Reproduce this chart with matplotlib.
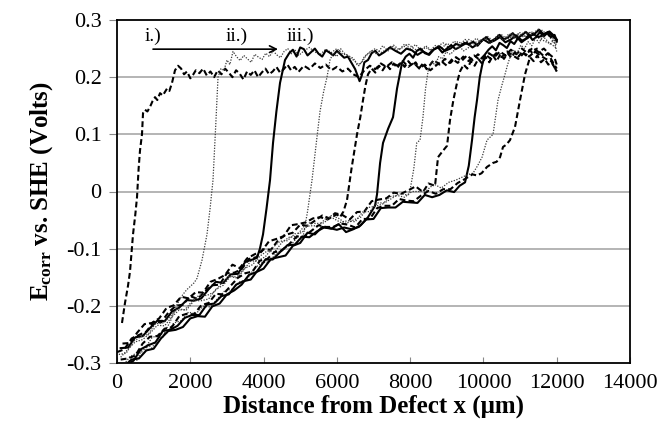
import matplotlib
matplotlib.use("Agg")
import matplotlib.pyplot as plt

plt.rcParams['font.family'] = ['Liberation Serif', 'DejaVu Serif']
plt.rcParams['axes.unicode_minus'] = False
plt.rcParams['mathtext.fontset'] = 'custom'
plt.rcParams['mathtext.rm'] = 'Liberation Serif'
plt.rcParams['mathtext.bf'] = 'Liberation Serif:bold'

# ---------------- data ----------------
# curve i.) dashed
c1_x = [136, 218, 300, 355, 437, 500, 546, 590, 628, 682, 710, 764, 830, 901, 970, 1037, 1100, 1174, 1250, 1365, 1430, 1501, 1583, 1665, 1750, 1830, 1911, 2000, 2074, 2150, 2250, 2350, 2450, 2550, 2650, 2750, 2850, 2950, 3050, 3150, 3250, 3350, 3450, 3550, 3650, 3750, 3850, 3950, 4050, 4150, 4250, 4350, 4450, 4550, 4650, 4750, 4850, 4950, 5100, 5250, 5400, 5550, 5700, 5850, 6000, 6150, 6300, 6450, 6600, 6750, 6900, 7050, 7200, 7350, 7500, 7650, 7800, 7950, 8100, 8250, 8400, 8550, 8700, 8850, 9000, 9150, 9300, 9450, 9600, 9750, 9900, 10050, 10200, 10350, 10500, 10650, 10800, 10950, 11100, 11250, 11400, 11550, 11700, 11850, 12000]
c1_y = [-0.23, -0.195, -0.165, -0.14, -0.075, -0.04, -0.01, 0.04, 0.072, 0.1, 0.137, 0.143, 0.14, 0.148, 0.158, 0.165, 0.16, 0.172, 0.168, 0.18, 0.176, 0.19, 0.212, 0.22, 0.215, 0.205, 0.21, 0.198, 0.204, 0.212, 0.207, 0.215, 0.203, 0.21, 0.2, 0.212, 0.205, 0.215, 0.208, 0.2, 0.212, 0.206, 0.196, 0.21, 0.204, 0.212, 0.2, 0.208, 0.215, 0.205, 0.21, 0.218, 0.208, 0.214, 0.222, 0.212, 0.218, 0.209, 0.22, 0.214, 0.224, 0.216, 0.222, 0.212, 0.218, 0.21, 0.215, 0.205, 0.2, 0.212, 0.22, 0.214, 0.224, 0.218, 0.226, 0.22, 0.228, 0.218, 0.225, 0.215, 0.222, 0.212, 0.22, 0.228, 0.22, 0.232, 0.225, 0.236, 0.228, 0.238, 0.23, 0.24, 0.232, 0.242, 0.235, 0.245, 0.238, 0.232, 0.242, 0.236, 0.245, 0.238, 0.232, 0.228, 0.21]

# curve ii.) dotted
c2_x = [50, 150, 250, 350, 450, 550, 650, 750, 850, 950, 1050, 1150, 1250, 1350, 1450, 1550, 1637, 1720, 1800, 1900, 2000, 2100, 2183, 2320, 2456, 2540, 2620, 2690, 2757, 2840, 2920, 3002, 3080, 3166,
        3260, 3360, 3460, 3560, 3660, 3760, 3860, 3960, 4060, 4160, 4260, 4360, 4460, 4560, 4660, 4760, 4860, 4960, 5100, 5250, 5400, 5550, 5700, 5850, 6000, 6150, 6300, 6450, 6550, 6650, 6750, 6900, 7050, 7200, 7350, 7500, 7650, 7800, 7950, 8100, 8250, 8400, 8550, 8700, 8850, 9000, 9150, 9300, 9450, 9600, 9750, 9900, 10050, 10200, 10350, 10500, 10650, 10800, 10950, 11100, 11250, 11400, 11550, 11700, 11850, 12000]
c2_y = [-0.303, -0.305, -0.31, -0.294, -0.293, -0.295, -0.28, -0.282, -0.268, -0.274, -0.264, -0.255, -0.255, -0.24, -0.228, -0.212, -0.198, -0.188, -0.18, -0.172, -0.166, -0.16, -0.152, -0.12, -0.075, -0.03, 0.02, 0.11, 0.2, 0.215, 0.212, 0.23, 0.222, 0.245,
        0.236, 0.229, 0.238, 0.232, 0.226, 0.24, 0.235, 0.231, 0.242, 0.236, 0.246, 0.239, 0.234, 0.245, 0.25, 0.241, 0.247, 0.238, 0.246, 0.252, 0.244, 0.24, 0.249, 0.243, 0.25, 0.241, 0.238, 0.233, 0.222, 0.224, 0.236, 0.244, 0.25, 0.243, 0.248, 0.255, 0.247, 0.252, 0.258, 0.25, 0.245, 0.253, 0.247, 0.256, 0.25, 0.259, 0.254, 0.262, 0.258, 0.266, 0.26, 0.264, 0.27, 0.263, 0.268, 0.274, 0.266, 0.272, 0.276, 0.27, 0.278, 0.272, 0.267, 0.262, 0.258, 0.25]

# curve iii.) solid
c3_x = [100, 300, 500, 700, 900, 1100, 1300, 1500, 1700, 1900, 2100, 2300, 2500, 2700, 2900, 3100, 3300, 3500, 3700, 3821, 3900, 3985, 4080, 4176, 4258, 4350, 4449, 4585,
        4700, 4800, 4900, 5000, 5100, 5200, 5300, 5400, 5500, 5600, 5700, 5800, 5900, 6000, 6100, 6200, 6300, 6400, 6500, 6580, 6620, 6680, 6750, 6850, 6950, 7050, 7150, 7300, 7450, 7600, 7750, 7900, 8050, 8200, 8350, 8500, 8650, 8800, 8950, 9100, 9250, 9400, 9550, 9700, 9850, 10000, 10150, 10300, 10450, 10600, 10750, 10900, 11050, 11200, 11350, 11500, 11650, 11800, 11950, 12000]
c3_y = [-0.274, -0.273, -0.255, -0.253, -0.239, -0.226, -0.227, -0.21, -0.203, -0.19, -0.191, -0.187, -0.171, -0.158, -0.16, -0.145, -0.144, -0.123, -0.119, -0.116, -0.1, -0.075, -0.03, 0.02, 0.085, 0.14, 0.19, 0.23,
        0.242, 0.248, 0.236, 0.252, 0.249, 0.238, 0.244, 0.25, 0.241, 0.236, 0.247, 0.243, 0.238, 0.246, 0.24, 0.234, 0.236, 0.225, 0.214, 0.2, 0.193, 0.203, 0.226, 0.23, 0.242, 0.246, 0.238, 0.244, 0.252, 0.246, 0.241, 0.25, 0.247, 0.239, 0.245, 0.24, 0.249, 0.254, 0.246, 0.25, 0.258, 0.255, 0.26, 0.252, 0.258, 0.266, 0.26, 0.264, 0.27, 0.261, 0.266, 0.273, 0.264, 0.268, 0.276, 0.27, 0.274, 0.28, 0.271, 0.262]

# dotted
c4_x = [150, 350, 550, 750, 950, 1150, 1350, 1550, 1750, 1950, 2150, 2350, 2550, 2750, 2950, 3150, 3350, 3550, 3750, 3950, 4150, 4350, 4550, 4750, 4950, 5076, 5200, 5322, 5430, 5540, 5640, 5731, 5813, 5900, 6000, 6100, 6200, 6300, 6400, 6500, 6600, 6700, 6800, 6950, 7100, 7250, 7400, 7550, 7700, 7850, 8000, 8150, 8300, 8450, 8600, 8750, 8900, 9050, 9200, 9350, 9500, 9650, 9800, 9950, 10100, 10250, 10400, 10550, 10700, 10850, 11000, 11150, 11300, 11450, 11600, 11750, 11900, 12000]
c4_y = [-0.306, -0.289, -0.282, -0.276, -0.256, -0.25, -0.248, -0.23, -0.226, -0.211, -0.214, -0.201, -0.202, -0.187, -0.173, -0.171, -0.158, -0.154, -0.134, -0.125, -0.123, -0.108, -0.1, -0.093, -0.078, -0.08, -0.035, 0.02, 0.08, 0.14, 0.175, 0.2, 0.23, 0.242, 0.236, 0.25, 0.242, 0.238, 0.232, 0.228, 0.22, 0.228, 0.238, 0.246, 0.24, 0.255, 0.246, 0.256, 0.248, 0.258, 0.25, 0.257, 0.246, 0.254, 0.245, 0.254, 0.26, 0.252, 0.263, 0.256, 0.266, 0.258, 0.268, 0.262, 0.272, 0.264, 0.274, 0.266, 0.276, 0.268, 0.278, 0.27, 0.28, 0.272, 0.282, 0.274, 0.268, 0.258]

# dashed
c5_x = [0, 200, 400, 600, 800, 1000, 1200, 1400, 1600, 1800, 2000, 2200, 2400, 2600, 2800, 3000, 3200, 3400, 3600, 3800, 4000, 4200, 4400, 4600, 4800, 5000, 5200, 5400, 5600, 5800, 6000, 6086, 6180, 6277, 6400, 6550, 6640, 6714, 6780, 6850, 6950, 7050, 7150, 7250, 7350, 7450, 7550, 7650, 7750, 7850, 7950, 8050, 8150, 8250, 8350, 8450, 8550, 8650, 8800, 8950, 9100, 9250, 9400, 9550, 9700, 9850, 10000, 10150, 10300, 10450, 10600, 10750, 10900, 11050, 11200, 11350, 11500, 11650, 11800, 11950, 12000]
c5_y = [-0.281, -0.276, -0.257, -0.251, -0.245, -0.228, -0.229, -0.212, -0.2, -0.198, -0.183, -0.188, -0.175, -0.164, -0.163, -0.143, -0.142, -0.136, -0.118, -0.115, -0.101, -0.102, -0.085, -0.076, -0.072, -0.058, -0.06, -0.051, -0.042, -0.047, -0.04, -0.045, -0.035, -0.015, 0.04, 0.1, 0.13, 0.16, 0.185, 0.205, 0.215, 0.208, 0.22, 0.212, 0.222, 0.214, 0.224, 0.216, 0.226, 0.218, 0.228, 0.22, 0.226, 0.216, 0.224, 0.214, 0.222, 0.23, 0.222, 0.232, 0.225, 0.235, 0.228, 0.238, 0.23, 0.24, 0.232, 0.242, 0.235, 0.245, 0.238, 0.248, 0.24, 0.25, 0.242, 0.252, 0.244, 0.25, 0.24, 0.232, 0.222]

# solid
c6_x = [50, 250, 450, 650, 850, 1050, 1250, 1450, 1650, 1850, 2050, 2250, 2450, 2650, 2850, 3050, 3250, 3450, 3650, 3850, 4050, 4250, 4450, 4650, 4850, 5050, 5250, 5450, 5650, 5850, 6050, 6250, 6450, 6650, 6850, 7041, 7096, 7180, 7260, 7400, 7533, 7642, 7778,
        7880, 7980, 8080, 8180, 8280, 8400, 8520, 8640, 8760, 8880, 9000, 9120, 9240, 9360, 9480, 9600, 9720, 9840, 9960, 10080, 10200, 10320, 10440, 10560, 10680, 10800, 10920, 11040, 11160, 11280, 11400, 11520, 11640, 11760, 11880, 12000]
c6_y = [-0.303, -0.304, -0.296, -0.276, -0.269, -0.264, -0.244, -0.242, -0.235, -0.221, -0.216, -0.216, -0.198, -0.196, -0.183, -0.18, -0.163, -0.157, -0.154, -0.137, -0.119, -0.119, -0.106, -0.094, -0.093, -0.079, -0.08, -0.07, -0.063, -0.065, -0.057, -0.071, -0.066, -0.059, -0.045, -0.025, -0.005, 0.05, 0.085, 0.11, 0.13, 0.18, 0.225,
        0.236, 0.241, 0.234, 0.246, 0.25, 0.242, 0.239, 0.248, 0.252, 0.243, 0.25, 0.256, 0.249, 0.253, 0.26, 0.257, 0.262, 0.255, 0.264, 0.27, 0.262, 0.267, 0.274, 0.266, 0.27, 0.277, 0.268, 0.273, 0.279, 0.272, 0.276, 0.283, 0.275, 0.279, 0.272, 0.266]

# dotted
c7_x = [100, 300, 500, 700, 900, 1100, 1300, 1500, 1700, 1900, 2100, 2300, 2500, 2700, 2900, 3100, 3300, 3500, 3700, 3900, 4100, 4300, 4500, 4700, 4900, 5100, 5300, 5500, 5700, 5900, 6100, 6300, 6500, 6700, 6900, 7100, 7300, 7500, 7700, 7942, 7997, 8100, 8180, 8270, 8350, 8420, 8488,
        8580, 8680, 8780, 8880, 8980, 9100, 9220, 9340, 9460, 9580, 9700, 9820, 9940, 10060, 10180, 10300, 10420, 10540, 10660, 10780, 10900, 11020, 11140, 11260, 11380, 11500, 11620, 11740, 11860, 12000]
c7_y = [-0.29, -0.276, -0.263, -0.259, -0.248, -0.234, -0.235, -0.219, -0.207, -0.207, -0.191, -0.191, -0.188, -0.171, -0.164, -0.148, -0.15, -0.134, -0.128, -0.113, -0.104, -0.106, -0.089, -0.08, -0.078, -0.061, -0.06, -0.06, -0.047, -0.047, -0.054, -0.051, -0.053, -0.036, -0.035, -0.02, -0.02, -0.012, -0.004, -0.006, 0.002, 0.04, 0.085, 0.09, 0.13, 0.18, 0.21,
        0.228, 0.221, 0.236, 0.232, 0.244, 0.24, 0.248, 0.254, 0.246, 0.251, 0.26, 0.255, 0.262, 0.268, 0.259, 0.266, 0.272, 0.264, 0.27, 0.277, 0.268, 0.274, 0.28, 0.273, 0.278, 0.284, 0.272, 0.276, 0.266, 0.255]

# dashed
c8_x = [150, 350, 550, 750, 950, 1150, 1350, 1550, 1750, 1950, 2150, 2350, 2550, 2750, 2950, 3150, 3350, 3550, 3750, 3950, 4150, 4350, 4550, 4750, 4950, 5150, 5350, 5550, 5750, 5950, 6150, 6350, 6550, 6750, 6950, 7150, 7350, 7550, 7750, 7950, 8150, 8350, 8500, 8679, 8761, 8880, 9007, 9088, 9180, 9279, 9361, 9460, 9560, 9660, 9760, 9860, 9960, 10060, 10160, 10260, 10360, 10460, 10560, 10660, 10760, 10860, 10960, 11060, 11160, 11260, 11360, 11460, 11560, 11660, 11760, 11860, 12000]
c8_y = [-0.266, -0.265, -0.247, -0.232, -0.23, -0.222, -0.204, -0.199, -0.184, -0.187, -0.176, -0.177, -0.158, -0.153, -0.146, -0.128, -0.134, -0.117, -0.11, -0.104, -0.087, -0.083, -0.078, -0.059, -0.057, -0.054, -0.047, -0.045, -0.049, -0.038, -0.041, -0.049, -0.036, -0.035, -0.017, -0.014, -0.012, -0.002, -0.004, 0.002, 0.009, -0.001, 0.014, 0.01, 0.06, 0.07, 0.08, 0.125, 0.16, 0.19, 0.21, 0.222, 0.215, 0.228, 0.22, 0.232, 0.224, 0.235, 0.226, 0.238, 0.228, 0.24, 0.232, 0.242, 0.234, 0.244, 0.236, 0.245, 0.238, 0.248, 0.24, 0.25, 0.242, 0.236, 0.242, 0.23, 0.215]

# solid
c9_x = [0, 200, 400, 600, 800, 1000, 1200, 1400, 1600, 1800, 2000, 2200, 2400, 2600, 2800, 3000, 3200, 3400, 3600, 3800, 4000, 4200, 4400, 4600, 4800, 5000, 5200, 5400, 5600, 5800, 6000, 6200, 6400, 6600, 6800, 7000, 7200, 7400, 7600, 7800, 8000, 8200, 8400, 8600, 8800, 9000, 9200, 9350, 9498, 9600, 9689, 9760, 9825, 9900, 9962, 10044,
        10140, 10240, 10340, 10440, 10540, 10640, 10740, 10840, 10940, 11040, 11140, 11240, 11340, 11440, 11540, 11640, 11740, 11840, 11940, 12000]
c9_y = [-0.303, -0.305, -0.294, -0.292, -0.278, -0.275, -0.257, -0.244, -0.242, -0.237, -0.222, -0.218, -0.219, -0.201, -0.196, -0.18, -0.173, -0.163, -0.146, -0.141, -0.135, -0.118, -0.115, -0.112, -0.095, -0.09, -0.072, -0.075, -0.062, -0.064, -0.067, -0.063, -0.066, -0.062, -0.049, -0.048, -0.029, -0.028, -0.028, -0.018, -0.019, -0.02, -0.006, -0.01, -0.006, 0.002, -0.001, 0.01, 0.016, 0.045, 0.09, 0.13, 0.16, 0.2, 0.22, 0.24,
        0.248, 0.254, 0.247, 0.26, 0.256, 0.251, 0.263, 0.258, 0.268, 0.261, 0.266, 0.274, 0.265, 0.27, 0.279, 0.271, 0.277, 0.27, 0.274, 0.264]

# dotted
c10_x = [50, 250, 450, 650, 850, 1050, 1250, 1450, 1650, 1850, 2050, 2250, 2450, 2650, 2850, 3050, 3250, 3450, 3650, 3850, 4050, 4250, 4450, 4650, 4850, 5050, 5250, 5450, 5650, 5850, 6050, 6250, 6450, 6650, 6850, 7050, 7250, 7450, 7650, 7850, 8050, 8250, 8450, 8650, 8850, 9050, 9250, 9450, 9600, 9716, 9840, 9962, 10098, 10180, 10262, 10330, 10398, 10500, 10589, 10660, 10726, 10820, 10920, 11020, 11120, 11220, 11320, 11420, 11520, 11620, 11720, 11820, 11920, 12000]
c10_y = [-0.285, -0.283, -0.262, -0.254, -0.25, -0.231, -0.23, -0.219, -0.205, -0.207, -0.192, -0.181, -0.182, -0.176, -0.161, -0.148, -0.151, -0.137, -0.122, -0.121, -0.114, -0.098, -0.087, -0.086, -0.074, -0.072, -0.055, -0.056, -0.055, -0.042, -0.047, -0.056, -0.05, -0.045, -0.028, -0.026, -0.022, -0.009, -0.007, -0.01, 0.0, 0.0, 0.002, 0.013, 0.006, 0.016, 0.02, 0.026, 0.03, 0.032, 0.045, 0.06, 0.09, 0.095, 0.1, 0.13, 0.16, 0.185, 0.205, 0.222, 0.235, 0.248, 0.242, 0.256, 0.25, 0.262, 0.255, 0.268, 0.26, 0.272, 0.265, 0.258, 0.265, 0.245]

# dashed
c11_x = [100, 300, 500, 700, 900, 1100, 1300, 1500, 1700, 1900, 2100, 2300, 2500, 2700, 2900, 3100, 3300, 3500, 3700, 3900, 4100, 4300, 4500, 4700, 4900, 5100, 5300, 5500, 5700, 5900, 6100, 6300, 6500, 6700, 6900, 7100, 7300, 7500, 7700, 7900, 8100, 8300, 8500, 8700, 8900, 9100, 9300, 9500, 9700, 9825, 9950, 10098, 10262, 10360, 10453, 10535, 10626, 10726, 10862, 10999, 11135, 11272, 11370, 11470, 11570, 11670, 11770, 11870, 12000]
c11_y = [-0.294, -0.292, -0.287, -0.266, -0.254, -0.253, -0.24, -0.237, -0.218, -0.214, -0.215, -0.199, -0.195, -0.179, -0.18, -0.165, -0.151, -0.143, -0.14, -0.121, -0.118, -0.106, -0.103, -0.092, -0.079, -0.079, -0.069, -0.059, -0.062, -0.062, -0.056, -0.058, -0.063, -0.048, -0.048, -0.029, -0.025, -0.025, -0.013, -0.016, -0.017, -0.007, 0.001, -0.004, 0.004, 0.004, 0.015, 0.022, 0.03, 0.028, 0.032, 0.043, 0.05, 0.052, 0.06, 0.078, 0.082, 0.09, 0.113, 0.16, 0.205, 0.235, 0.228, 0.238, 0.226, 0.232, 0.222, 0.225, 0.21]

curves = [
    (c1_x, c1_y, 'dashed'), (c2_x, c2_y, 'dotted'), (c3_x, c3_y, 'solid'),
    (c4_x, c4_y, 'dotted'), (c5_x, c5_y, 'dashed'), (c6_x, c6_y, 'solid'),
    (c7_x, c7_y, 'dotted'), (c8_x, c8_y, 'dashed'), (c9_x, c9_y, 'solid'),
    (c10_x, c10_y, 'dotted'), (c11_x, c11_y, 'dashed'),
]

x_ticks = [0, 2000, 4000, 6000, 8000, 10000, 12000, 14000]
y_ticks = [-0.3, -0.2, -0.1, 0, 0.1, 0.2, 0.3]
y_tick_labels = ['-0.3', '-0.2', '-0.1', '0', '0.1', '0.2', '0.3']
labels = ['i.)', 'ii.)', 'iii.)']
label_x = [969, 3275, 4995]
label_y = 0.272
arrow_x = [983, 4394]
arrow_y = 0.249

# ---------------- figure ----------------
fig = plt.figure(figsize=(6.59, 4.29), dpi=100)
ax = fig.add_axes([117/659, 1-363/429, 513/659, 343/429])

styles = {
    'dashed': dict(color='black', lw=1.5, linestyle=(0, (2.8, 1.5))),
    'dotted': dict(color='#3a3a3a', lw=0.9, linestyle=(0, (1, 1.2))),
    'solid': dict(color='black', lw=1.5, linestyle='-'),
}
for xs, ys, st in curves:
    ax.plot(xs, ys, zorder=3, **styles[st])

ax.set_xlim(0, 14000)
ax.set_ylim(-0.3, 0.3)
ax.set_xticks(x_ticks)
ax.set_xticklabels([str(v) for v in x_ticks])
ax.set_yticks(y_ticks)
ax.set_yticklabels(y_tick_labels)
for v in y_ticks[1:-1]:
    ax.axhline(v, color='#a8a8a8', lw=1.2, zorder=1)

ax.tick_params(axis='x', direction='in', length=4, width=0.8, color='#888888',
               labelsize=16, pad=8)
ax.tick_params(axis='y', direction='out', length=6, width=0.8, color='#888888',
               labelsize=16, pad=5)
for s in ax.spines.values():
    s.set_linewidth(1.3)
    s.set_color('black')

ax.set_xlabel('Distance from Defect x (\u03bcm)', fontsize=18, fontweight='bold', labelpad=1)
ax.set_ylabel(r'$\mathbf{E_{corr}}$ vs. SHE (Volts)', fontsize=18, fontweight='bold', labelpad=8)

for t, lx in zip(labels, label_x):
    ax.text(lx, label_y, t, ha='center', va='center', fontsize=14, zorder=5)
ax.annotate('', xy=(arrow_x[1], arrow_y), xytext=(arrow_x[0], arrow_y),
            arrowprops=dict(arrowstyle='->', color='black', lw=1.2,
                            mutation_scale=12, shrinkA=0, shrinkB=0), zorder=5)

fig.savefig('out.png', dpi=100)
